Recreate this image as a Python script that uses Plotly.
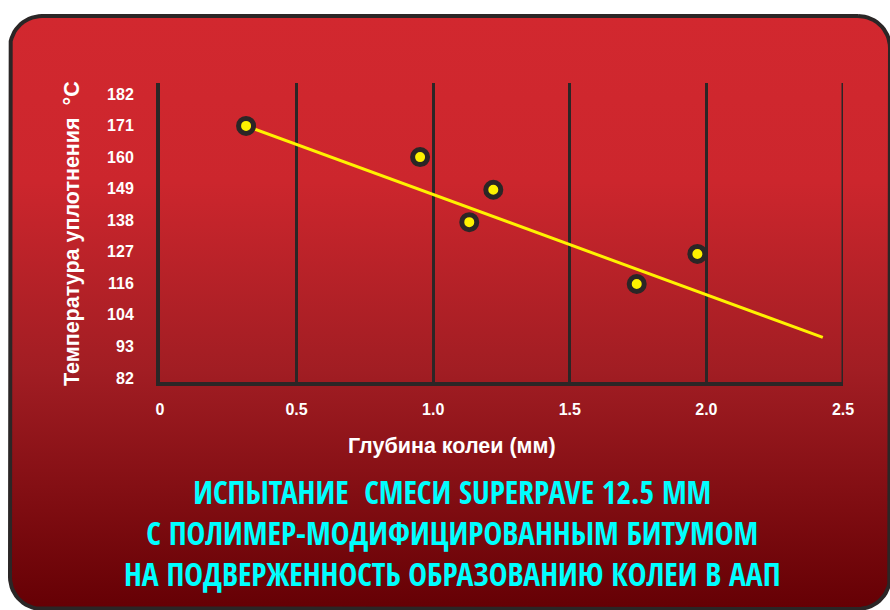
import numpy as np
import plotly.graph_objects as go

# Rut depth (mm) vs compaction temperature (°C)
rut_depth = [0.315, 0.952, 1.132, 1.220, 1.745, 1.967]
compaction_temp = [171.0, 160.0, 137.1, 148.5, 115.3, 125.9]

# Trend line end points
trend_depth = [0.315, 2.426]
trend_temp = [171.0, 96.5]

# Axis ticks: temperatures are °F steps shown in °C
x_ticks = [0, 0.5, 1.0, 1.5, 2.0, 2.5]
x_ticktext = ["0", "0.5", "1.0", "1.5", "2.0", "2.5"]
temp_f_steps = [180, 200, 220, 240, 260, 280, 300, 320, 340, 360]
y_ticktext = ["82", "93", "104", "116", "127", "138", "149", "160", "171", "182"]
y_tickvals = [(f - 32) * 5 / 9 for f in temp_f_steps]

title_lines = [
    "ИСПЫТАНИЕ  СМЕСИ SUPERPAVE 12.5 ММ",
    "С ПОЛИМЕР-МОДИФИЦИРОВАННЫМ БИТУМОМ",
    "НА ПОДВЕРЖЕННОСТЬ ОБРАЗОВАНИЮ КОЛЕИ В ААП",
]

W, H = 890, 610
DARK = "#2b2626"
YELLOW = "#fff200"


def rounded_rect(x0, y0, x1, y1, r, n=16):
    """Outline of a rounded rectangle in pixel space (y grows downward)."""
    xs, ys = [], []
    corners = [
        (x1 - r, y0 + r, -90, 0),
        (x1 - r, y1 - r, 0, 90),
        (x0 + r, y1 - r, 90, 180),
        (x0 + r, y0 + r, 180, 270),
    ]
    for cx, cy, a0, a1 in corners:
        t = np.radians(np.linspace(a0, a1, n))
        xs.extend(cx + r * np.cos(t))
        ys.extend(cy + r * np.sin(t))
    xs.append(xs[0])
    ys.append(ys[0])
    return xs, ys


fig = go.Figure()

# Background panel with vertical red gradient
px, py = rounded_rect(10, 16, 890, 609, 32)
fig.add_trace(go.Scatter(
    x=px, y=py, mode="lines", fill="toself",
    line=dict(color=DARK, width=4),
    fillgradient=dict(
        type="vertical",
        start=16, stop=609,
        colorscale=[[0.0, "#d2282f"], [0.28, "#cc262d"], [0.6, "#a11d23"], [1.0, "#650004"]],
    ),
    hoverinfo="skip", showlegend=False, cliponaxis=False,
    xaxis="x", yaxis="y",
))

# Trend line
fig.add_trace(go.Scatter(
    x=trend_depth, y=trend_temp, mode="lines",
    line=dict(color=YELLOW, width=3),
    showlegend=False, xaxis="x2", yaxis="y2",
))

# Measured points
fig.add_trace(go.Scatter(
    x=rut_depth, y=compaction_temp, mode="markers",
    marker=dict(size=15, color=YELLOW, line=dict(color=DARK, width=5)),
    showlegend=False, xaxis="x2", yaxis="y2",
))

tick_font = dict(family="Liberation Sans, Arial", size=16, color="white", weight="bold")

fig.update_layout(
    width=W, height=H, autosize=False,
    margin=dict(l=0, r=0, t=0, b=0, pad=0, autoexpand=False),
    paper_bgcolor="white",
    plot_bgcolor="rgba(0,0,0,0)",
    xaxis=dict(domain=[0, 1], range=[0, W], visible=False, fixedrange=True, automargin=False),
    yaxis=dict(domain=[0, 1], range=[H, 0], visible=False, fixedrange=True, automargin=False),
    xaxis2=dict(
        domain=[160 / W, 843 / W], range=[0, 2.5], anchor="y2", automargin=False,
        tickvals=x_ticks, ticktext=x_ticktext, tickfont=tick_font,
        ticks="outside", ticklen=10, tickcolor="rgba(0,0,0,0)",
        showgrid=True, gridcolor=DARK, gridwidth=2.5,
        showline=True, linecolor=DARK, linewidth=4,
        mirror=False, zeroline=False,
    ),
    yaxis2=dict(
        domain=[(H - 382) / H, (H - 83) / H], range=[80.8, 186.1], anchor="x2", automargin=False,
        tickvals=y_tickvals, ticktext=y_ticktext, tickfont=tick_font,
        ticks="outside", ticklen=19, tickcolor="rgba(0,0,0,0)",
        showgrid=False,
        showline=True, linecolor=DARK, linewidth=4,
        zeroline=False,
    ),
)

# Right frame line at 2.5 mm
fig.add_shape(type="line", xref="x2", yref="y2 domain", x0=2.5, x1=2.5, y0=0, y1=1,
              line=dict(color=DARK, width=3))

axis_title_font = dict(family="Liberation Sans, Arial", size=21.5, color="white")

fig.add_annotation(
    text="<b>Температура уплотнения  °С</b>", xref="paper", yref="paper",
    x=72 / W, y=(H - 234) / H, textangle=-90, showarrow=False,
    font=axis_title_font, xanchor="center", yanchor="middle",
)
fig.add_annotation(
    text="<b>Глубина колеи (мм)</b>", xref="paper", yref="paper",
    x=452 / W, y=(H - 446) / H, showarrow=False,
    font=axis_title_font, xanchor="center", yanchor="middle",
)

# Three-line caption under the chart
fig.add_annotation(
    text="<br>".join(title_lines), xref="paper", yref="paper",
    x=452 / W, y=(H - 532) / H, showarrow=False, align="center",
    font=dict(family="Open Sans Condensed, Roboto Condensed, Liberation Sans",
              size=31.5, color="#00ffff", weight="bold"),
    xanchor="center", yanchor="middle",
)

fig.write_html("out.html")
